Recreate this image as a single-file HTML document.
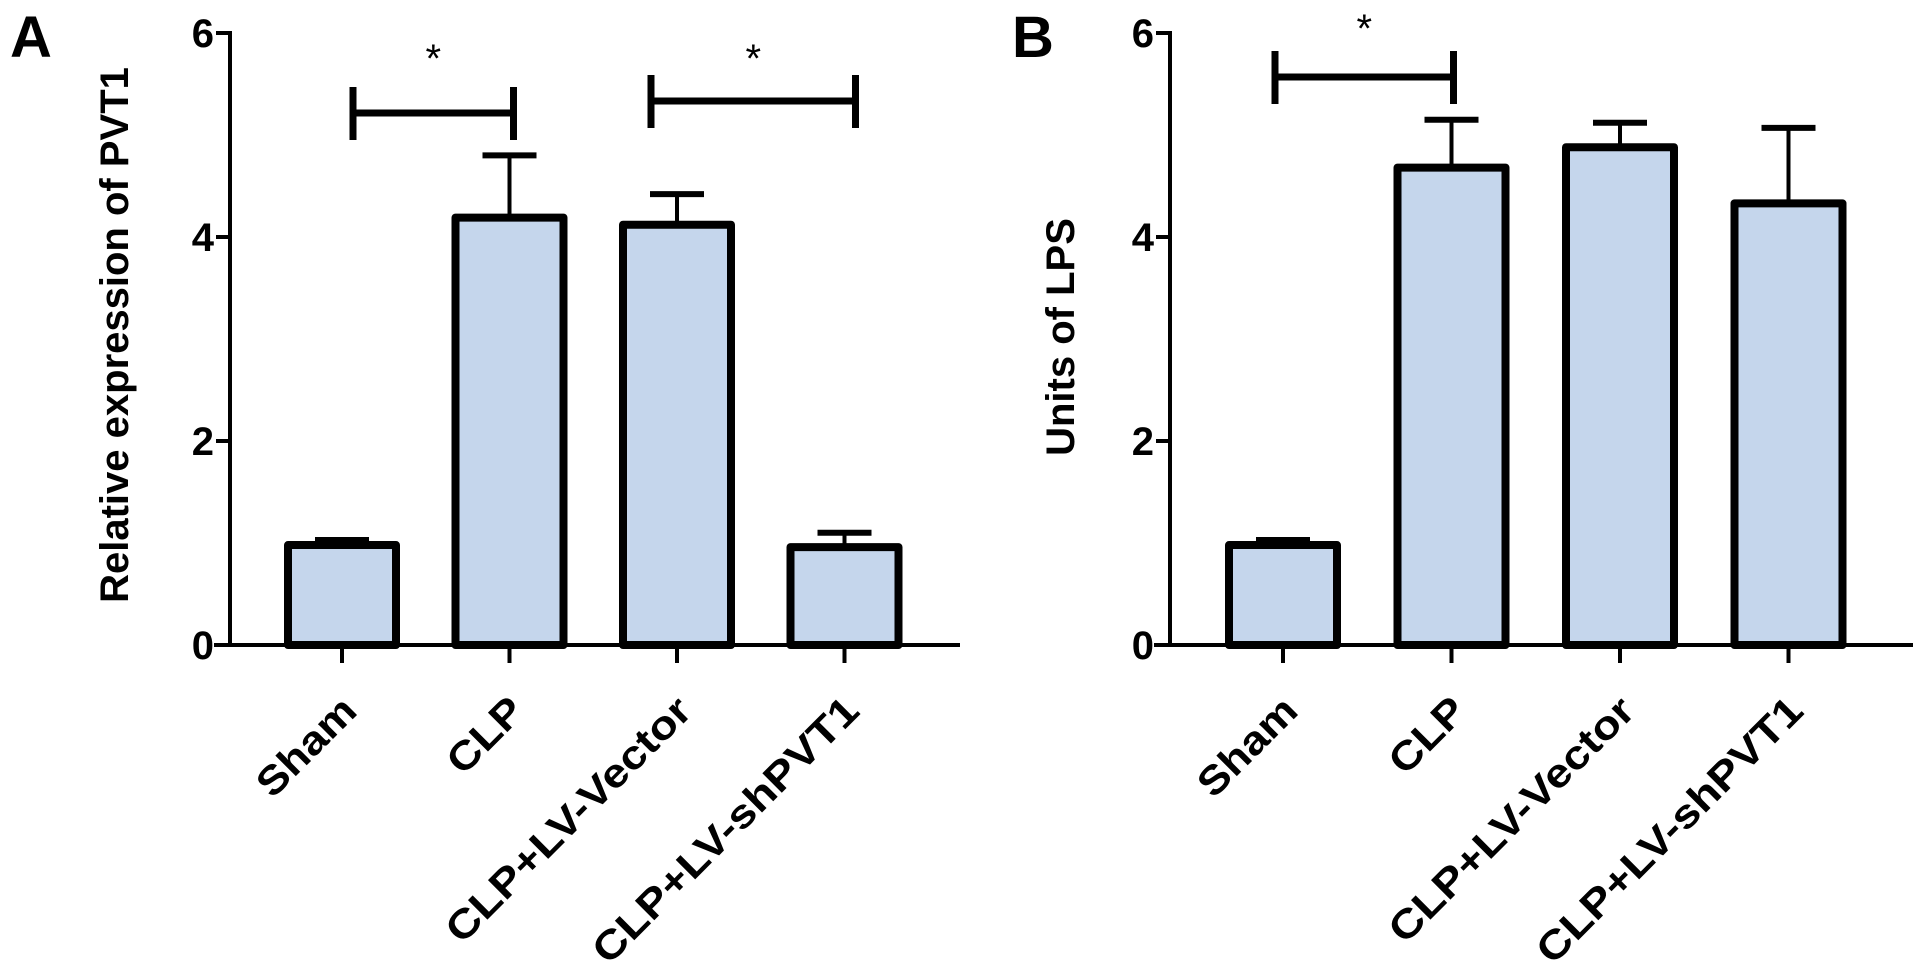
<!DOCTYPE html>
<html><head><meta charset="utf-8"><style>
html,body{margin:0;padding:0;background:#fff;}
svg{display:block;font-family:"Liberation Sans",Arial,sans-serif;}
</style></head><body>
<svg id="fig" width="1913" height="970" viewBox="0 0 1913 970"></svg>
<script>
const categories = ["Sham","CLP","CLP+LV-Vector","CLP+LV-shPVT1"];
const valuesA = [0.98, 4.19, 4.12, 0.96];
const errorsA = [0.05, 0.61, 0.30, 0.14];
const valuesB = [0.98, 4.68, 4.88, 4.33];
const errorsB = [0.05, 0.47, 0.24, 0.74];
const yTicks = [0, 2, 4, 6];
const labelEm = [2.72, 2.0, 7.3, 7.95];

const NS = "http://www.w3.org/2000/svg";
const svg = document.getElementById("fig");
function mk(tag, attrs, parent) {
  const e = document.createElementNS(NS, tag);
  for (const k in attrs) e.setAttribute(k, attrs[k]);
  (parent || svg).appendChild(e);
  return e;
}
const Y0 = 645, PX = 102;
function yScale(v) { return Y0 - v * PX; }

function panel(opts) {
  const g = mk("g", {});
  
  
  const ax = opts.axisX;
  function xScale(i) { return opts.firstX + i * opts.step; }
  const L = mk("text", {x: opts.letterX, y: 57, "font-size": 58, "font-weight": "bold"}, g);
  L.textContent = opts.letter;
  
  
  const t = mk("text", {x: 0, y: 0, "font-size": 40, "font-weight": "bold", "text-anchor": "middle",
    transform: `translate(${opts.titleX},${opts.titleY}) rotate(-90)`}, g);
  t.textContent = opts.title;
  
  
  opts.values.forEach((v, i) => {
    const cx = xScale(i), w = 108;
    const ey = yScale(v + opts.errors[i]);
    const el = mk("line", {x1: cx, x2: cx, y1: yScale(v), y2: ey, stroke: "#000", "stroke-width": 4}, g);
    
    
    const ec = mk("line", {x1: cx - 27, x2: cx + 27, y1: ey, y2: ey, stroke: "#000", "stroke-width": 6}, g);
    
    
    const r = mk("rect", {x: cx - w / 2, y: yScale(v), width: w, height: Y0 - yScale(v),
      fill: "#c5d6ec", stroke: "#000", "stroke-width": 8, "stroke-linejoin": "round"}, g);
    
    
    const tk = mk("line", {x1: cx, x2: cx, y1: Y0, y2: Y0 + 18, stroke: "#000", "stroke-width": 4}, g);
    
    
    const lb = mk("text", {x: 0, y: 0, "font-size": 40, "font-weight": "bold", "text-anchor": "end",
      textLength: labelEm[i] * 45, lengthAdjust: "spacingAndGlyphs",
      transform: `translate(${cx + 17},${Y0 + 68}) rotate(-45)`}, g);
    lb.textContent = categories[i];
    
    
  });
  const ya = mk("line", {x1: ax, x2: ax, y1: yScale(6) - 2, y2: Y0 + 2, stroke: "#000", "stroke-width": 4}, g);
  
  
  const xa = mk("line", {x1: ax - 16, x2: opts.axisEnd, y1: Y0, y2: Y0, stroke: "#000", "stroke-width": 4}, g);
  
  
  yTicks.forEach(v => {
    const y = yScale(v);
    const tl = mk("line", {x1: ax - 14, x2: ax, y1: y, y2: y, stroke: "#000", "stroke-width": 4}, g);
    
    
    const tx = mk("text", {x: ax - 16, y: y + 14, "font-size": 40, "font-weight": "bold", "text-anchor": "end"}, g);
    tx.textContent = v;
    
    
  });
  opts.brackets.forEach(b => {
    const x1 = xScale(b.from) + b.o1, x2 = xScale(b.to) + b.o2, y = b.y;
    const bg = mk("g", {}, g);
    
    
    mk("line", {x1: x1, x2: x2, y1: y, y2: y, stroke: "#000", "stroke-width": 7}, bg);
    mk("line", {x1: x1, x2: x1, y1: y - 26, y2: y + 27, stroke: "#000", "stroke-width": 7}, bg);
    mk("line", {x1: x2, x2: x2, y1: y - 26, y2: y + 27, stroke: "#000", "stroke-width": 7}, bg);
    const s = mk("text", {x: (x1 + x2) / 2, y: b.sy, "font-size": 40, "text-anchor": "middle"}, bg);
    s.textContent = "*";
  });
}

panel({name: "panel-a", letter: "A", letterX: 10, title: "Relative expression of PVT1", titleX: 128, titleY: 335,
  axisX: 230, axisEnd: 960, firstX: 342, step: 167.5, values: valuesA, errors: errorsA,
  brackets: [{from: 0, to: 1, o1: 11, o2: 4, y: 113, sy: 72}, {from: 2, to: 3, o1: -26, o2: 11, y: 101, sy: 72}]});
panel({name: "panel-b", letter: "B", letterX: 1012, title: "Units of LPS", titleX: 1074, titleY: 337,
  axisX: 1170, axisEnd: 1913, firstX: 1283, step: 168.5, values: valuesB, errors: errorsB,
  brackets: [{from: 0, to: 1, o1: -8, o2: 2, y: 77, sy: 42}]});
</script>
</body></html>
